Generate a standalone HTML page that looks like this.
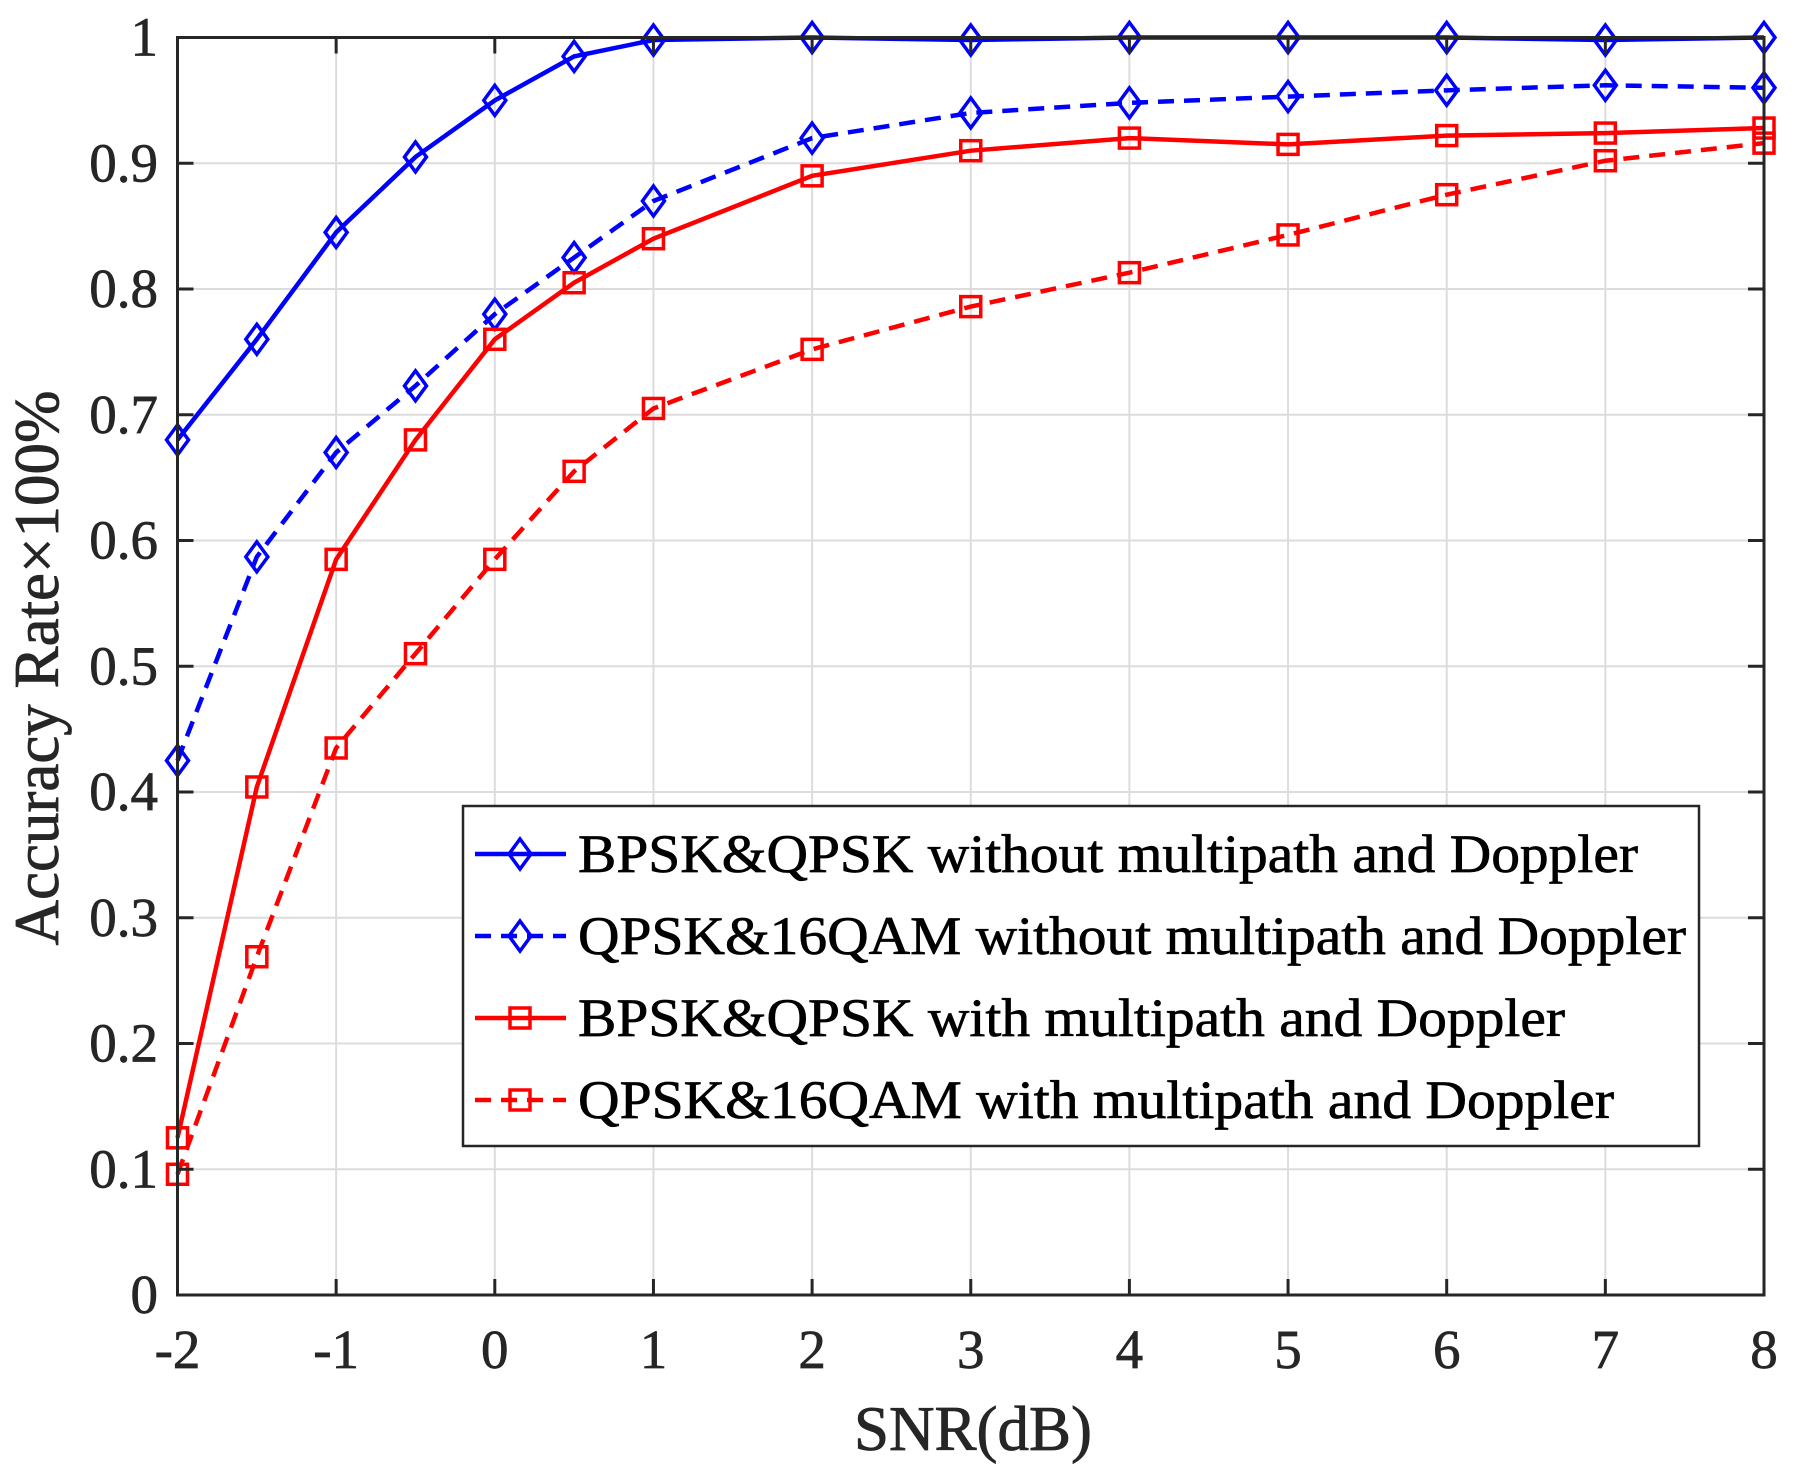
<!DOCTYPE html>
<html><head><meta charset="utf-8"><style>
html,body{margin:0;padding:0;background:#fff;}
svg{display:block;font-family:"Liberation Serif",serif;}
</style></head><body>
<svg id="chart" width="1802" height="1481" viewBox="0 0 1802 1481" xmlns="http://www.w3.org/2000/svg">
<rect width="1802" height="1481" fill="#fff"/>
<g id="grid"></g>
<g id="series"></g>
<rect x="177.5" y="37.5" width="1586.5" height="1257.5" fill="none" stroke="#262626" stroke-width="3"/>
<g id="ticks"></g>
<text x="973" y="1450" font-size="63" text-anchor="middle" fill="#262626" stroke="#262626" stroke-width="0.8">SNR(dB)</text>
<text transform="translate(58,668) rotate(-90)" font-size="63" text-anchor="middle" fill="#262626" stroke="#262626" stroke-width="0.8">Accuracy Rate×100%</text>
<g id="legend"></g>
</svg>
<script>
const snr = [-2,-1.5,-1,-0.5,0,0.5,1,2,3,4,5,6,7,8];
const bpskClean = [0.68,0.76,0.845,0.905,0.95,0.985,0.998,1.0,0.998,1.0,1.0,1.0,0.998,1.0];
const qamClean = [0.425,0.587,0.67,0.723,0.78,0.825,0.87,0.92,0.94,0.948,0.953,0.958,0.962,0.96];
const bpskMulti = [0.125,0.404,0.585,0.68,0.76,0.805,0.84,0.89,0.91,0.92,0.915,0.922,0.924,0.928];
const qamMulti = [0.096,0.269,0.435,0.51,0.585,0.655,0.705,0.752,0.786,0.813,0.843,0.875,0.902,0.916];
const xTicks = [-2,-1,0,1,2,3,4,5,6,7,8];
const yTicks = [0,0.1,0.2,0.3,0.4,0.5,0.6,0.7,0.8,0.9,1];
const yTickLabels = ["0","0.1","0.2","0.3","0.4","0.5","0.6","0.7","0.8","0.9","1"];
const legendLabels = ["BPSK&QPSK without multipath and Doppler","QPSK&16QAM without multipath and Doppler","BPSK&QPSK with multipath and Doppler","QPSK&16QAM with multipath and Doppler"];

const NS="http://www.w3.org/2000/svg";
const L=177.5,R=1764,T=37.5,B=1295;
const xs=v=>L+(v+2)/10*(R-L);
const ys=v=>B-v*(B-T);
function mk(tag,attrs,parent){const e=document.createElementNS(NS,tag);for(const k in attrs)e.setAttribute(k,attrs[k]);parent.appendChild(e);return e;}
const grid=document.getElementById('grid'),ticks=document.getElementById('ticks'),ser=document.getElementById('series'),leg=document.getElementById('legend');
xTicks.forEach(v=>{
  const g=mk('line',{x1:xs(v),x2:xs(v),y1:T,y2:B,stroke:'#dcdcdc','stroke-width':2},grid);
  
  
  mk('line',{x1:xs(v),x2:xs(v),y1:B,y2:B-16,stroke:'#262626','stroke-width':3},ticks);
  mk('line',{x1:xs(v),x2:xs(v),y1:T,y2:T+16,stroke:'#262626','stroke-width':3},ticks);
  const t=mk('text',{x:xs(v),y:1368,'font-size':55,'text-anchor':'middle',fill:'#262626',stroke:'#262626','stroke-width':0.7},ticks);
  t.textContent=String(v);
  
  
});
yTicks.forEach((v,i)=>{
  if(v>0&&v<1){const g=mk('line',{x1:L,x2:R,y1:ys(v),y2:ys(v),stroke:'#dcdcdc','stroke-width':2},grid);
  
  }
  mk('line',{x1:L,x2:L+16,y1:ys(v),y2:ys(v),stroke:'#262626','stroke-width':3},ticks);
  mk('line',{x1:R,x2:R-16,y1:ys(v),y2:ys(v),stroke:'#262626','stroke-width':3},ticks);
  const t=mk('text',{x:158,y:ys(v)+18,'font-size':55,'text-anchor':'end',fill:'#262626',stroke:'#262626','stroke-width':0.7},ticks);
  t.textContent=yTickLabels[i];
  
  
});
function marker(type,x,y,color,parent){
  let e;
  if(type==='d') e=mk('polygon',{points:`${x},${y-15} ${x+11},${y} ${x},${y+15} ${x-11},${y}`,fill:'none',stroke:color,'stroke-width':3.5},parent);
  else e=mk('rect',{x:x-10,y:y-10,width:20,height:20,fill:'none',stroke:color,'stroke-width':3.5},parent);
  return e;
}
const defs=[[bpskClean,'#0000ff','','d'],[qamClean,'#0000ff','16,10','d'],[bpskMulti,'#ff0000','','s'],[qamMulti,'#ff0000','16,10','s']];
const names=['bpsk-qpsk-clean','qpsk-16qam-clean','bpsk-qpsk-multipath','qpsk-16qam-multipath'];
defs.forEach((d,k)=>{
  const g=mk('g',{},ser);
  
  
  const p=mk('polyline',{points:snr.map((s,i)=>xs(s)+','+ys(d[0][i])).join(' '),fill:'none',stroke:d[1],'stroke-width':4.5,'stroke-dasharray':d[2]||'none'},g);
  
  
  snr.forEach((s,i)=>{const m=marker(d[3],xs(s),ys(d[0][i]),d[1],g);
    
    });
});
const box=mk('rect',{x:463,y:806,width:1236,height:340,fill:'#fff',stroke:'#262626','stroke-width':2.5},leg);


defs.forEach((d,k)=>{
  const y=854+k*82;
  const g=mk('g',{},leg);
  
  
  mk('line',{x1:475,x2:566,y1:y,y2:y,stroke:d[1],'stroke-width':4.5,'stroke-dasharray':d[2]||'none'},g);
  marker(d[3],520,y,d[1],g);
  const t=mk('text',{x:578,y:y+18,'font-size':54,fill:'#000',stroke:'#000','stroke-width':0.7,textLength:(k==1?1108:(k==0?1060:(k==2?987:1036))),lengthAdjust:'spacingAndGlyphs'},g);
  t.textContent=legendLabels[k];
});
</script>
</body></html>
